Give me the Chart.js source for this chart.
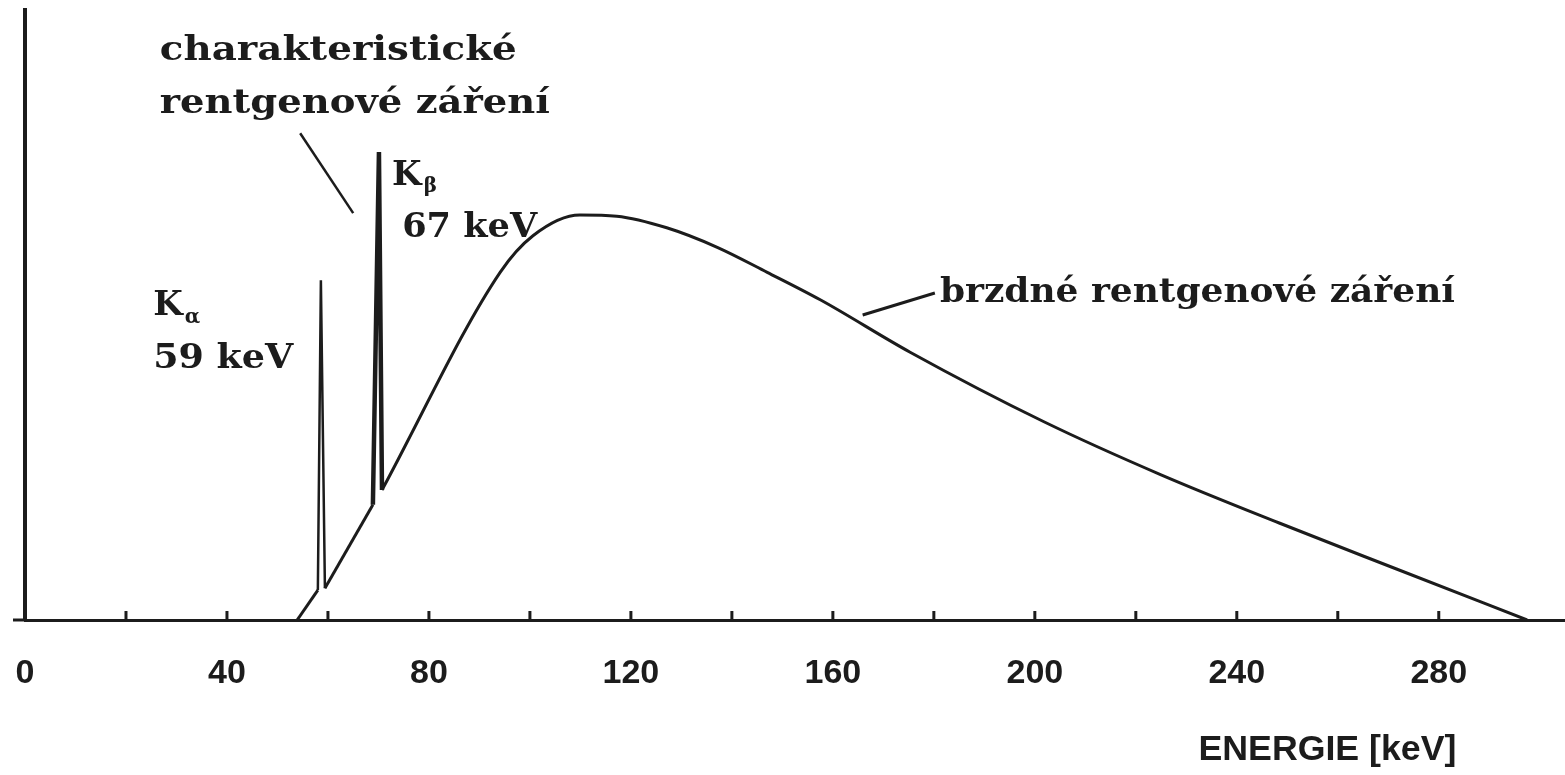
<!DOCTYPE html>
<html><head><meta charset="utf-8">
<script src="https://cdn.jsdelivr.net/npm/chart.js@4.4.1/dist/chart.umd.min.js"></script>
<style>html,body{margin:0;padding:0;background:#fff;overflow:hidden}#wrap{width:1565px;height:775px;position:relative}canvas{display:block}</style>
</head><body><div id="wrap"><canvas id="c" width="1565" height="775"></canvas></div>
<script>
// ---- data ----
const lineEnergy = [53.9, 58.0, 58.6, 59.4, 68.9, 70.1, 70.7];          // keV (Kα, Kβ spikes on the rising edge)
const lineIntensity = [0, 4.9, 55.7, 5.2, 18.9, 76.7, 21.3];
const bremsEnergy = [70.7, 94.1, 100.6, 109.9, 117.2, 127.1, 137.1, 147.0, 157.5, 175.3, 201.8, 225.0, 248.4, 271.5, 297.5];
const bremsIntensity = [21.3, 57.0, 63.0, 66.4, 66.2, 64.3, 61.1, 57.0, 52.5, 43.9, 32.5, 23.8, 15.9, 8.4, 0];
const minorTicks = [20, 40, 60, 80, 100, 120, 140, 160, 180, 200, 220, 240, 260, 280];
const tickLabels = [0, 40, 80, 120, 160, 200, 240, 280];
const axisTitle = 'ENERGIE [keV]';

const INK = '#1c1c1c';
const SERIF = '"DejaVu Serif", "Liberation Serif", serif';
const SANS = '"Liberation Sans", Arial, sans-serif';

function fitText(ctx, text, x, y, font, width) {
  ctx.save();
  ctx.font = font;
  ctx.textAlign = 'left';
  ctx.textBaseline = 'alphabetic';
  const w = ctx.measureText(text).width;
  const s = width ? width / w : 1;
  ctx.translate(x, y);
  ctx.scale(s, 1);
  ctx.fillText(text, 0, 0);
  ctx.restore();
  return w * s;
}

const decor = {
  id: 'decor',
  afterDraw(chart, args, opts) {
    const {ctx, scales: {x, y}} = chart;
    const px = v => x.getPixelForValue(v);
    const py = v => y.getPixelForValue(v);
    ctx.save();
    ctx.strokeStyle = INK; ctx.fillStyle = INK; ctx.lineCap = 'butt';
    ctx.lineWidth = 3;
    ctx.beginPath(); ctx.moveTo(13, py(0)); ctx.lineTo(px(0), py(0)); ctx.stroke();
    minorTicks.forEach(v => {
      ctx.beginPath(); ctx.moveTo(px(v), py(0)); ctx.lineTo(px(v), py(0) - 9); ctx.stroke();
    });
    opts.callouts.forEach(c => {
      ctx.lineWidth = c.w;
      ctx.beginPath(); ctx.moveTo(px(c.x1), py(c.y1)); ctx.lineTo(px(c.x2), py(c.y2)); ctx.stroke();
    });
    opts.texts.forEach(t => {
      const w = fitText(ctx, t.t, px(t.x), py(t.y), `bold ${t.size}px ${SERIF}`, t.w);
      if (t.sub) fitText(ctx, t.sub, px(t.x) + w + 2, py(t.y) + t.subDy, `bold ${t.subSize}px ${SERIF}`, null);
    });
    const tw = 258;
    fitText(ctx, axisTitle, px(opts.titleRight) - tw, 760, `bold 35px ${SANS}`, tw);
    ctx.restore();
  }
};

new Chart(document.getElementById('c'), {
  type: 'line',
  data: {
    datasets: [
      {
        data: lineEnergy.map((e, i) => ({x: e, y: lineIntensity[i]})),
        borderColor: INK, borderWidth: 3, pointRadius: 0, tension: 0,
        segment: { borderWidth: c => (c.p0DataIndex === 4 || c.p0DataIndex === 5) ? 4.5 : (c.p0DataIndex === 1 || c.p0DataIndex === 2 ? 2.5 : 3) }
      },
      {
        data: bremsEnergy.map((e, i) => ({x: e, y: bremsIntensity[i]})),
        borderColor: INK, borderWidth: 3, pointRadius: 0, cubicInterpolationMode: 'monotone'
      }
    ]
  },
  options: {
    responsive: false,
    animation: false,
    devicePixelRatio: 1,
    layout: { padding: { left: 25, top: 10, right: 0, bottom: 81 } },
    plugins: { legend: { display: false }, tooltip: { enabled: false },
      decor: {
        titleRight: 283.5,
        callouts: [
          { x1: 54.5, y1: 79.8, x2: 65.0, y2: 66.7, w: 2.5 },
          { x1: 180.2, y1: 53.6, x2: 165.9, y2: 50.0, w: 3 }
        ],
        texts: [
          { t: 'charakteristické', x: 26.7, y: 91.8, size: 34, w: 357 },
          { t: 'rentgenové záření', x: 26.7, y: 83.1, size: 34, w: 390 },
          { t: 'K', x: 25.4, y: 50.0, size: 34, w: null, sub: 'α', subSize: 20, subDy: 8 },
          { t: '59 keV', x: 25.4, y: 41.3, size: 34, w: 140 },
          { t: 'K', x: 72.7, y: 71.3, size: 34, w: null, sub: 'β', subSize: 20, subDy: 7 },
          { t: '67 keV', x: 74.7, y: 62.8, size: 34, w: 135 },
          { t: 'brzdné rentgenové záření', x: 181.2, y: 52.1, size: 34, w: 515 }
        ]
      }
    },
    scales: {
      x: {
        type: 'linear', min: 0, max: 305,
        grid: { display: false, drawTicks: false },
        border: { display: true, width: 3, color: INK },
        afterBuildTicks: s => { s.ticks = tickLabels.map(v => ({ value: v })); },
        afterFit: s => { s.height = 74; s.paddingLeft = 0; s.paddingRight = 0; },
        ticks: { padding: 33, maxRotation: 0, autoSkip: false, color: INK,
          font: { family: SANS, weight: 'bold', size: 34 } }
      },
      y: {
        type: 'linear', min: 0, max: 100,
        grid: { display: false, drawTicks: false },
        border: { display: true, width: 4, color: INK },
        afterFit: s => { s.width = 0; s.paddingTop = 0; s.paddingBottom = 0; },
        ticks: { display: false }
      }
    }
  },
  plugins: [decor]
});
</script>
</body></html>
